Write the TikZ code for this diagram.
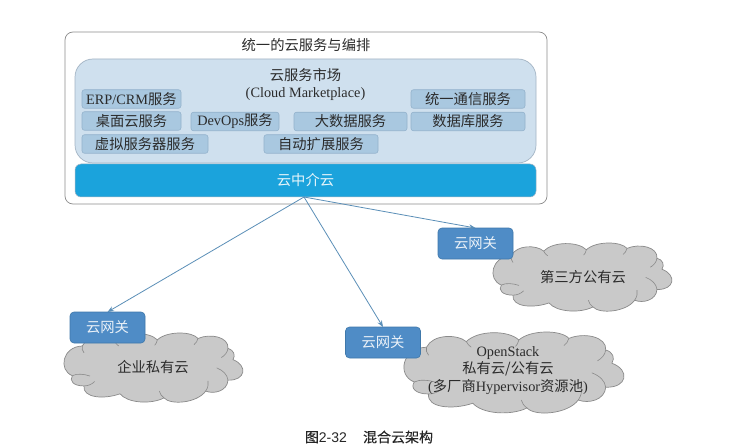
\documentclass[tikz,border=0pt]{standalone}
\usepackage{fontspec}
\setmainfont{Liberation Serif}
\newfontfamily\cjk{Noto Sans CJK SC}
\newfontfamily\capfont{Liberation Sans}
\newfontfamily\capcjk[FakeBold=0.25]{Noto Sans CJK SC}
\usetikzlibrary{arrows.meta}
\definecolor{panelfill}{HTML}{CFE0EE}
\definecolor{panelline}{HTML}{A3B4C4}
\definecolor{svcfill}{HTML}{A9C8E0}
\definecolor{svcline}{HTML}{93B2CC}
\definecolor{barfill}{HTML}{1BA3DC}
\definecolor{gwfill}{HTML}{4F8CC6}
\definecolor{gwline}{HTML}{3F78AA}
\definecolor{cloudfill}{HTML}{C9C9C9}
\definecolor{cloudline}{HTML}{8A8A8A}
\definecolor{linkcol}{HTML}{5B8FB8}
\definecolor{inktext}{HTML}{2B2B2B}
\tikzset{
  x=1pt,y=-1pt,
  every node/.style={inner sep=0pt,outer sep=0pt,text=inktext,font=\fontsize{14.3}{16}\selectfont},
  outerbox/.style={draw=black!45,fill=white,line width=0.7pt,rounded corners=8pt},
  panelbox/.style={draw=panelline,fill=panelfill,line width=0.7pt,rounded corners=18pt},
  barbox/.style={draw=panelline,fill=barfill,line width=0.5pt,rounded corners=6pt,text=white!90!barfill},
  svc/.style={draw=svcline,fill=svcfill,line width=0.6pt,rounded corners=2.5pt,minimum height=18.5pt},
  gw/.style={draw=gwline,fill=gwfill,line width=0.6pt,rounded corners=4pt,minimum width=75pt,minimum height=31pt,text=white!88!gwfill},
  link/.style={draw=linkcol,line width=0.8pt,-{Stealth[length=6.5pt,width=5pt]}},
  cloudbody/.style={draw=cloudline,fill=cloudfill,line width=0.7pt,line join=round},
  cloudcrease/.style={draw=cloudline,line width=0.6pt},
}
\newcommand{\hybridcloud}[4]{%
  \begin{scope}[shift={(#1,#2)},xscale=#3,yscale=#4]
    \path[cloudbody] (25,125)
      .. controls (-18,108) and (-5,40) .. (55,38)
      .. controls (70,5) and (130,5) .. (152,24)
      .. controls (180,-5) and (255,-5) .. (280,20)
      .. controls (310,-7) and (385,-5) .. (402,16)
      .. controls (440,0) and (495,12) .. (492,45)
      .. controls (510,50) and (515,65) .. (507,78)
      .. controls (552,95) and (545,140) .. (492,138)
      .. controls (490,170) and (450,180) .. (425,170)
      .. controls (400,205) and (320,212) .. (300,190)
      .. controls (260,210) and (190,205) .. (168,178)
      .. controls (120,195) and (55,190) .. (60,155)
      .. controls (28,155) and (15,140) .. (25,125) -- cycle;
    \path[cloudcrease] (25,125) .. controls (38,118) and (60,120) .. (78,126);
    \path[cloudcrease] (55,38) .. controls (53,45) and (55,52) .. (60,58);
    \path[cloudcrease] (152,24) .. controls (155,30) and (158,34) .. (164,38);
    \path[cloudcrease] (280,20) .. controls (278,28) and (276,32) .. (272,36);
    \path[cloudcrease] (402,16) .. controls (400,24) and (396,30) .. (390,34);
    \path[cloudcrease] (492,45) .. controls (490,58) and (482,66) .. (472,72);
    \path[cloudcrease] (492,138) .. controls (490,122) and (478,110) .. (458,102);
    \path[cloudcrease] (425,170) .. controls (432,160) and (434,150) .. (432,140);
    \path[cloudcrease] (300,190) .. controls (292,184) and (288,178) .. (286,170);
    \path[cloudcrease] (60,155) .. controls (72,155) and (84,150) .. (92,142);
  \end{scope}}
\begin{document}
\begin{tikzpicture}
\useasboundingbox (0,0) rectangle (735,446);
\fill[white] (0,0) rectangle (735,446);

\node[outerbox,minimum width=482pt,minimum height=172pt] (outer) at (306,118) {};
\node (outertitle) at (306,45) {\cjk 统一的云服务与编排};
\node[panelbox,minimum width=461pt,minimum height=104pt] (panel) at (305.5,111) {};
\node[align=center] (market) at (305.5,84) {{\fontsize{14.3}{17.5}\selectfont\cjk 云服务市场}\\[1pt]{\fontsize{14.3}{16}\selectfont (Cloud Marketplace)}};

\node[svc,minimum width=99pt] (erp) at (131.5,99) {ERP/CRM{\cjk 服务}};
\node[svc,minimum width=99pt] (desk) at (131.5,121) {\cjk 桌面云服务};
\node[svc,minimum width=88pt] (devops) at (235,121.5) {DevOps{\cjk 服务}};
\node[svc,minimum width=113pt] (bigdata) at (350.5,121.5) {\cjk 大数据服务};
\node[svc,minimum width=114pt] (uc) at (468,99) {\cjk 统一通信服务};
\node[svc,minimum width=114pt] (db) at (468,121.5) {\cjk 数据库服务};
\node[svc,minimum width=126pt] (vm) at (145,144) {\cjk 虚拟服务器服务};
\node[svc,minimum width=114pt] (auto) at (321,144) {\cjk 自动扩展服务};

\node[barbox,minimum width=461pt,minimum height=33pt] (broker) at (305.5,180.5) {\raisebox{-0.7pt}{\cjk 云中介云}};

\hybridcloud{493}{243}{0.3333}{0.3366}
\hybridcloud{64}{333}{0.3333}{0.3416}
\hybridcloud{404}{332}{0.41}{0.40}

\node[gw] (gwa) at (107.5,327.5) {\cjk 云网关};
\node[gw] (gwb) at (383,342.5) {\cjk 云网关};
\node[gw] (gwc) at (475.5,243.5) {\cjk 云网关};

\node (cloudA) at (153,367) {\cjk 企业私有云};
\node (cloudC) at (583,277) {\cjk 第三方公有云};
\node[align=center,font=\fontsize{14.3}{17.5}\selectfont] (cloudB) at (508,370.5) {OpenStack\\{\cjk 私有云/公有云}\\({\cjk 多厂商}Hypervisor{\cjk 资源池})};

\coordinate (hub) at (304,197);
\draw[link] (hub) -- (gwa.north);
\draw[link] (hub) -- (gwb.north);
\draw[link] (hub) -- (gwc.north);

\node[text=black!85] (caption) at (369,437) {\fontsize{14}{15}\selectfont{\capcjk 图}{\capfont 2-32}\hspace{1.15em}{\capcjk 混合云架构}};
\end{tikzpicture}
\end{document}
